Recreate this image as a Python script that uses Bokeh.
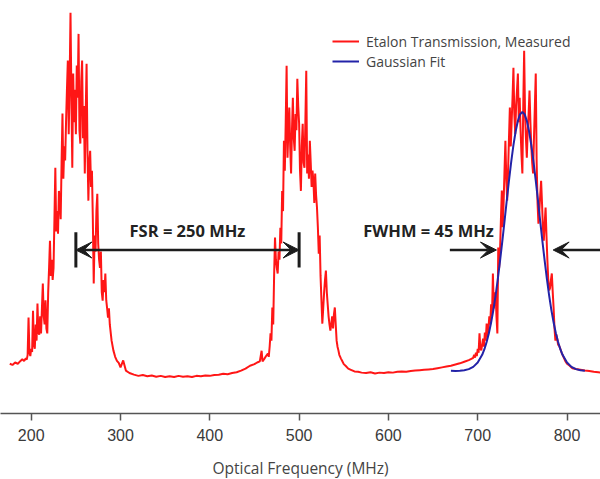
from bokeh.plotting import figure
from bokeh.models import Legend, LegendItem, Label, Arrow, VeeHead, FixedTicker, Range1d
from bokeh.embed import file_html
from bokeh.resources import INLINE

# ---------------- data ----------------
tick_values = [200, 300, 400, 500, 600, 700, 800]

base_left_x = [176, 179, 182, 185, 188, 190, 192, 194, 195]
base_left_y = [12.3, 12.0, 12.6, 12.3, 13.0, 13.4, 13.0, 13.6, 13.3]

peak1_x = [196, 197, 198, 199, 200, 201, 202, 203, 204, 205, 206, 207, 208, 209, 210,
           211, 212, 213, 214, 215, 216, 217, 218, 219, 220, 221, 222, 223, 224, 225,
           226, 227, 228, 229, 230, 231, 232, 233, 234, 235, 236, 237, 238, 239, 240,
           241, 242, 243, 244, 245, 246, 247, 248, 249, 250, 251, 252, 253, 254, 255,
           256, 257, 258, 259, 260, 261, 262, 263, 264, 265, 266, 267, 268, 269, 270,
           271, 272, 273, 274, 275, 276, 277, 278, 279, 280, 281, 282, 283, 284, 285,
           286, 287, 288]
peak1_y = [14.5, 23.7, 15.0, 14.2, 16.0, 15.2, 25.4, 17.0, 16.0, 22.0, 18.0, 27.2, 20.0, 19.5, 24.0,
           19.8, 26.0, 32.1, 24.0, 22.0, 28.0, 21.0, 19.8, 30.0, 36.0, 42.7, 34.0, 38.0, 33.0, 36.0,
           48.0, 60.7, 45.0, 50.0, 44.4, 55.0, 52.6, 48.0, 62.0, 74.1, 58.0, 66.0, 62.5, 72.0, 80.0,
           87.2, 69.0, 82.0, 99.0, 78.0, 60.7, 84.0, 72.0, 80.0, 69.0, 86.0, 78.0, 93.8, 70.0, 66.7,
           82.0, 87.2, 68.0, 76.0, 59.3, 74.0, 86.4, 65.0, 52.6, 62.0, 64.9, 56.0, 60.0, 48.0, 32.1,
           44.0, 40.0, 50.0, 54.3, 42.0, 38.0, 36.0, 40.0, 30.0, 27.9, 33.0, 30.0, 34.6, 28.0, 26.0,
           23.7, 26.0, 22.0]

tail1_x = [290, 292, 294, 296, 298, 300, 303, 306, 310]
tail1_y = [18.0, 15.6, 14.0, 13.0, 12.5, 11.4, 13.1, 10.6, 10.0]

mid1_x = [315, 320, 325, 330, 335, 340, 345, 350, 355, 360, 365, 370, 375, 380, 385, 390,
          395, 400, 405, 410, 415, 420, 425, 430, 435, 440, 445, 450, 453, 456, 458, 459,
          461, 463, 465]
mid1_y = [9.6, 9.3, 9.5, 9.2, 9.4, 9.1, 9.3, 9.0, 9.2, 9.0, 9.3, 9.1, 9.2, 9.0, 9.3, 9.2,
          9.4, 9.3, 9.5, 9.6, 9.8, 9.7, 10.0, 10.2, 10.6, 11.1, 11.8, 12.2, 12.6, 12.9, 15.5, 12.9,
          13.5, 14.2, 14.8]

peak2_x = [466, 467, 468, 469, 470, 471, 472, 473, 474, 475, 476, 477, 478, 479, 480,
           481, 482, 483, 484, 485, 486, 487, 488, 489, 490, 491, 492, 493, 494, 495,
           496, 497, 498, 499, 500, 501, 502, 503, 504, 505, 506, 507, 508, 509, 510,
           511, 512, 513, 514, 515, 516, 517, 518, 519, 520, 521, 522, 523, 524, 525,
           526, 527, 528, 529, 530, 531, 532, 533, 534, 535, 536, 537, 538, 539, 540,
           541, 542, 543, 544, 545, 546, 547, 548]
peak2_y = [14.0, 16.5, 19.8, 18.0, 26.2, 22.0, 34.0, 43.5, 38.0, 36.0, 34.6, 40.0, 38.0, 45.9, 42.0,
           55.0, 50.0, 67.4, 60.0, 72.0, 85.9, 63.2, 70.0, 75.6, 66.0, 59.3, 70.0, 78.0, 68.0, 64.9,
           74.0, 70.0, 82.7, 76.0, 71.6, 60.0, 55.0, 66.0, 71.6, 62.0, 60.7, 72.0, 84.7, 59.3, 64.0,
           58.0, 67.4, 62.0, 56.0, 60.0, 57.5, 52.0, 59.3, 54.0, 50.9, 46.0, 39.5, 44.0, 34.0, 28.0,
           22.2, 26.0, 30.0, 33.0, 35.3, 30.0, 27.0, 24.0, 22.0, 20.5, 22.0, 24.0, 21.0, 24.5, 26.2,
           22.0, 18.0, 16.5, 15.6, 14.5, 14.0, 13.5, 13.1]

tail2_x = [550, 552, 555, 558, 562]
tail2_y = [12.2, 11.8, 11.1, 10.8, 10.4]

mid2_x = [566, 570, 575, 580, 585, 590, 595, 600, 605, 610, 615, 620, 625, 630, 635, 640,
          645, 650, 655, 660, 665, 670, 675, 680, 685, 690, 694]
mid2_y = [10.3, 10.1, 10.0, 10.2, 9.9, 10.1, 10.0, 10.2, 10.1, 10.3, 10.4, 10.3, 10.5, 10.6, 10.7, 10.8,
          10.9, 11.0, 11.2, 11.4, 11.6, 11.8, 12.1, 12.4, 12.8, 13.2, 13.6]

peak3_x = [695, 696, 697, 698, 699, 700, 701, 702, 703, 704, 705, 706, 707, 708, 709,
           710, 711, 712, 713, 714, 715, 716, 717, 718, 719, 720, 721, 722, 723, 724,
           725, 726, 727, 728, 729, 730, 731, 732, 733, 734, 735, 736, 737, 738, 739,
           740, 741, 742, 743, 744, 745, 746, 747, 748, 749, 750, 751, 752, 753, 754,
           755, 756, 757, 758, 759, 760, 761, 762, 763, 764, 765, 766, 767, 768, 769,
           770, 771, 772, 773, 774, 775, 776, 777, 778, 779, 780, 781, 782, 783, 784,
           785, 786, 787, 788, 789, 790, 791, 792]
peak3_y = [13.8, 14.5, 13.8, 15.0, 14.2, 16.0, 15.0, 19.8, 16.0, 15.6, 17.0, 18.5, 16.5, 20.0, 18.0,
           22.2, 19.0, 21.0, 24.0, 22.0, 27.0, 24.0, 34.6, 26.0, 28.0, 30.0, 24.0, 19.8, 41.0, 36.0,
           40.0, 48.0, 55.1, 46.0, 52.0, 60.0, 67.4, 58.0, 52.6, 60.0, 68.0, 75.6, 66.0, 72.0, 78.0,
           85.4, 74.0, 69.1, 76.0, 80.0, 84.0, 72.0, 78.0, 70.0, 64.0, 59.3, 76.0, 89.6, 74.0, 68.0,
           63.2, 70.0, 74.0, 79.8, 72.0, 66.0, 62.0, 59.3, 68.0, 76.0, 84.0, 62.0, 52.0, 46.9, 50.0,
           54.0, 57.5, 52.0, 46.0, 42.7, 47.0, 50.9, 44.0, 38.0, 33.0, 30.4, 31.0, 33.0, 34.6, 30.0,
           26.0, 21.0, 18.0, 19.5, 18.5, 17.0, 16.8, 16.3]

tail3_x = [794, 796, 798, 800, 803, 806, 810, 815, 820, 825, 830, 835, 838]
tail3_y = [15.0, 14.0, 13.0, 12.3, 11.8, 11.2, 11.0, 10.8, 10.6, 10.5, 10.3, 10.2, 10.1]

fit_x = [670, 675, 680, 685, 690, 695, 700, 705, 707.5, 710, 712.5, 715, 717.5, 720, 722.5,
         725, 727.5, 730, 732.5, 735, 737.5, 740, 742.5, 745, 747.5, 750, 752.5, 755, 757.5,
         760, 762.5, 765, 767.5, 770, 772.5, 775, 777.5, 780, 782.5, 785, 787.5, 790, 792.5,
         795, 800, 805, 810, 815, 820]
fit_y = [10.55, 10.53, 10.58, 10.70, 10.96, 11.52, 12.59, 14.49, 15.89, 17.67, 19.83, 22.47, 25.56,
         29.12, 33.21, 37.70, 42.49, 47.49, 52.57, 57.54, 62.15, 66.31, 69.75, 72.32, 73.96, 74.50,
         73.96, 72.32, 69.75, 66.31, 62.15, 57.54, 52.57, 47.49, 42.49, 37.70, 33.21, 29.12, 25.56,
         22.47, 19.83, 17.67, 15.89, 14.49, 12.59, 11.52, 10.96, 10.70, 10.58]

# annotation values
fsr_marks = [250, 500]
fsr_text = "FSR = 250 MHz"
fwhm_text = "FWHM = 45 MHz"
fwhm_left_tip = 721
fwhm_right_tip = 784.5

measured_x = base_left_x + peak1_x + tail1_x + mid1_x + peak2_x + tail2_x + mid2_x + peak3_x + tail3_x
measured_y = base_left_y + peak1_y + tail1_y + mid1_y + peak2_y + tail2_y + mid2_y + peak3_y + tail3_y

# ---------------- figure ----------------
X0, X1 = 165.6, 837.5
p = figure(frame_width=600, frame_height=413,
           x_range=Range1d(X0, X1), y_range=Range1d(0, 102.05),
           output_backend="svg", toolbar_location=None,
           y_axis_location=None, min_border=0,
           min_border_left=0, min_border_right=0, min_border_top=0)
p.outline_line_color = None
p.xgrid.visible = False
p.ygrid.visible = False
p.background_fill_color = "white"
p.border_fill_color = "white"

r_red = p.line(measured_x, measured_y, line_color="#ff0a0a", line_width=2.0, line_alpha=0.95)
r_blue = p.line(fit_x, fit_y, line_color="#2323a8", line_width=2.0)

ax = p.xaxis[0]
ax.ticker = FixedTicker(ticks=tick_values)
ax.axis_line_color = "#555555"
ax.axis_line_width = 1.5
ax.major_tick_line_color = "#555555"
ax.major_tick_line_width = 1.5
ax.major_tick_out = 7
ax.major_tick_in = 0
ax.minor_tick_line_color = None
ax.major_label_text_font = "Liberation Sans"
ax.major_label_text_font_size = "16px"
ax.major_label_text_color = "#3a3a3a"
ax.major_label_standoff = 8
ax.axis_label = "Optical Frequency (MHz)"
ax.axis_label_text_font = "Open Sans"
ax.axis_label_text_font_size = "15.5px"
ax.axis_label_text_font_style = "normal"
ax.axis_label_text_color = "#444444"
ax.axis_label_standoff = 13

# FSR bars and arrow
ARROW_Y = 40.4
BAR_LO, BAR_HI = 36.1, 44.8
dark = "#1c1c1c"
p.segment(x0=fsr_marks, y0=[BAR_LO] * 2, x1=fsr_marks, y1=[BAR_HI] * 2,
          line_color=dark, line_width=3)
p.add_layout(Arrow(start=VeeHead(size=16, fill_color=dark, line_color=dark, line_width=1),
                   end=VeeHead(size=16, fill_color=dark, line_color=dark, line_width=1),
                   x_start=fsr_marks[0], y_start=ARROW_Y, x_end=fsr_marks[1], y_end=ARROW_Y,
                   line_color=dark, line_width=2.5))
p.add_layout(Label(x=(fsr_marks[0] + fsr_marks[1]) / 2, y=45.3, text=fsr_text,
                   text_align="center", text_baseline="middle",
                   text_font="Open Sans", text_font_style="bold", text_font_size="16.5px",
                   text_color="#222222"))

# FWHM arrows
p.add_layout(Arrow(end=VeeHead(size=16, fill_color=dark, line_color=dark, line_width=1),
                   x_start=668.8, y_start=ARROW_Y, x_end=fwhm_left_tip, y_end=ARROW_Y,
                   line_color=dark, line_width=2.5))
p.add_layout(Arrow(end=VeeHead(size=16, fill_color=dark, line_color=dark, line_width=1),
                   x_start=X1, y_start=ARROW_Y, x_end=fwhm_right_tip, y_end=ARROW_Y,
                   line_color=dark, line_width=2.5))
p.add_layout(Label(x=645, y=45.3, text=fwhm_text,
                   text_align="center", text_baseline="middle",
                   text_font="Open Sans", text_font_style="bold", text_font_size="16.5px",
                   text_color="#222222"))

legend = Legend(items=[LegendItem(label="Etalon Transmission, Measured", renderers=[r_red]),
                       LegendItem(label="Gaussian Fit", renderers=[r_blue])],
                location=(332, 342), orientation="vertical",
                background_fill_alpha=0, border_line_alpha=0,
                padding=0, margin=0, spacing=0,
                glyph_width=27, glyph_height=20, label_height=20, label_standoff=7,
                label_text_font="Open Sans", label_text_font_size="14px",
                label_text_color="#444444")
p.add_layout(legend)

open("out.html", "w").write(file_html(p, INLINE, "Etalon transmission"))
